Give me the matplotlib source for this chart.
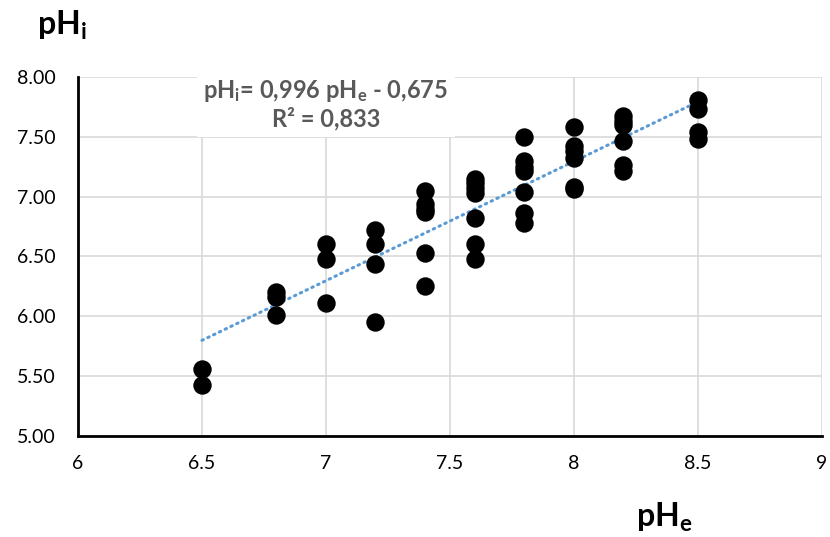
import numpy as np
import matplotlib
matplotlib.use('Agg')
import matplotlib.pyplot as plt

plt.rcParams['font.family'] = ['Lato', 'DejaVu Sans']
plt.rcParams['mathtext.fontset'] = 'custom'
plt.rcParams['mathtext.rm'] = 'Lato'
plt.rcParams['mathtext.bf'] = 'Lato:bold'

# measured pHe (x) and pHi (y) pairs
ph_e = [6.5, 6.5,
        6.8, 6.8, 6.8,
        7.0, 7.0, 7.0,
        7.2, 7.2, 7.2, 7.2,
        7.4, 7.4, 7.4, 7.4, 7.4, 7.4,
        7.6, 7.6, 7.6, 7.6, 7.6, 7.6, 7.6,
        7.8, 7.8, 7.8, 7.8, 7.8, 7.8, 7.8,
        8.0, 8.0, 8.0, 8.0, 8.0, 8.0,
        8.2, 8.2, 8.2, 8.2, 8.2, 8.2,
        8.5, 8.5, 8.5, 8.5]
ph_i = [5.56, 5.43,
        6.20, 6.16, 6.01,
        6.60, 6.48, 6.11,
        6.72, 6.60, 6.44, 5.95,
        7.05, 6.94, 6.90, 6.87, 6.53, 6.25,
        7.15, 7.11, 7.03, 6.82, 6.60, 6.48, 7.07,
        7.50, 7.30, 7.25, 7.21, 7.04, 6.86, 6.78,
        7.58, 7.42, 7.38, 7.32, 7.08, 7.06,
        7.67, 7.63, 7.60, 7.46, 7.26, 7.21,
        7.81, 7.73, 7.54, 7.48]

slope = 0.996
intercept = -0.675
r2 = 0.833

fig = plt.figure(figsize=(8.3, 5.37), dpi=100)
ax = fig.add_axes([0.094, 0.188, 0.896, 0.669])

ax.scatter(ph_e, ph_i, s=150, color='black', zorder=3)

trend_x = np.array([min(ph_e), max(ph_e)])
ax.plot(trend_x, slope * trend_x + intercept, color='#5b9bd5', lw=2.2,
        linestyle=(0, (0.5, 1.6)), dash_capstyle='round', zorder=2)

ax.set_xlim(6, 9)
ax.set_ylim(5, 8)
ax.set_xticks(np.arange(6, 9.01, 0.5))
ax.set_xticklabels(['6', '6.5', '7', '7.5', '8', '8.5', '9'])
ax.set_yticks(np.arange(5, 8.01, 0.5))
ax.set_yticklabels(['%.2f' % v for v in np.arange(5, 8.01, 0.5)])
ax.tick_params(length=0, labelsize=14, colors='black')
ax.tick_params(axis='x', pad=14)
ax.tick_params(axis='y', pad=16)
ax.grid(True, color='#d9d9d9', lw=1.2, zorder=0)
ax.set_axisbelow(True)
for side in ['top', 'right']:
    ax.spines[side].set_visible(False)
for side in ['left', 'bottom']:
    ax.spines[side].set_linewidth(2)
    ax.spines[side].set_color('black')

eq = r'$\mathbf{pH_i}$= 0,996 $\mathbf{pH_e}$ - 0,675' + '\n' + 'R² = 0,833'
ax.text(7.0, 7.77, eq, ha='center', va='center', fontsize=17, fontweight='bold',
        color='#595959', linespacing=1.15, zorder=4,
        bbox=dict(facecolor='white', edgecolor='none', pad=5))

fig.text(0.075, 0.953, r'$\mathbf{pH_i}$', fontsize=23, ha='center', va='center')
fig.text(0.80, 0.037, r'$\mathbf{pH_e}$', fontsize=23, ha='center', va='center')

fig.savefig('out.png', dpi=100)
